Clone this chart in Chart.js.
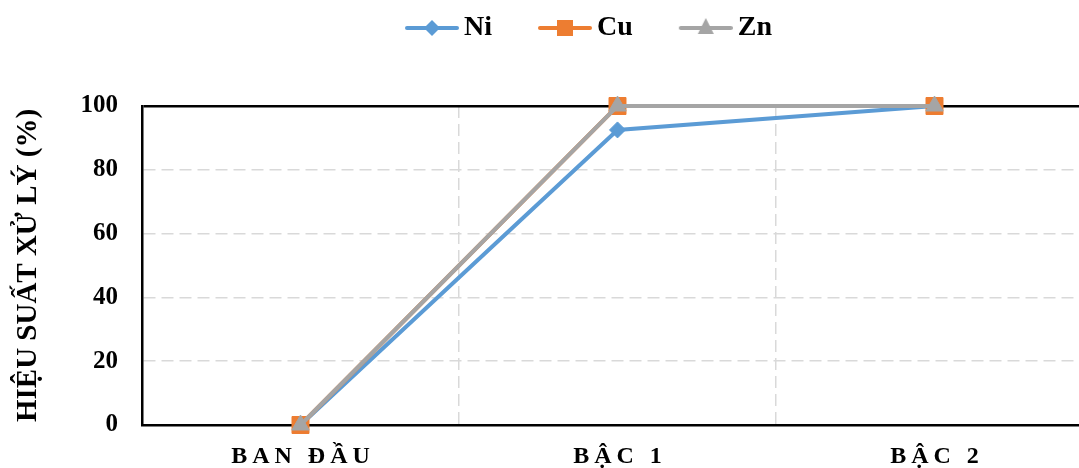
<!DOCTYPE html>
<html>
<head>
<meta charset="utf-8">
<script src="https://cdn.jsdelivr.net/npm/chart.js@4.4.0/dist/chart.umd.min.js"></script>
<style>
  html, body { margin: 0; padding: 0; background: #fff; overflow: hidden; }
  #wrap { width: 1095px; height: 468px; }
</style>
</head>
<body>
<div id="wrap"><canvas id="myChart" width="1095" height="468"></canvas></div>
<script>
// datos del grafico
var categories = ['BAN ĐẦU', 'BẬC 1', 'BẬC 2'];
var niValues = [0, 92.5, 100];
var cuValues = [0, 100, 100];
var znValues = [0, 100, 100];
var yTicks = [0, 20, 40, 60, 80, 100];

var FONT = "'Liberation Serif', 'Times New Roman', serif";

// icono de leyenda: linea + marcador
function legendIcon(color, shape) {
    var c = document.createElement('canvas');
    c.width = 95; c.height = 30;
    var g = c.getContext('2d');
    g.strokeStyle = color;
    g.fillStyle = color;
    g.lineWidth = 4;
    g.lineCap = 'round';
    g.beginPath(); g.moveTo(43, 15); g.lineTo(93, 15); g.stroke();
    var cx = 68, cy = 15;
    g.beginPath();
    if (shape == 'diamond') {
        g.moveTo(cx, cy - 8); g.lineTo(cx + 8, cy); g.lineTo(cx, cy + 8); g.lineTo(cx - 8, cy);
    } else if (shape == 'square') {
        g.rect(cx - 8, cy - 8, 16, 16);
    } else {
        g.moveTo(cx, cy - 10); g.lineTo(cx + 8, cy + 6); g.lineTo(cx - 8, cy + 6);
    }
    g.closePath();
    g.fill();
    return c;
}

var icons = [
    legendIcon('#5B9BD5', 'diamond'),
    legendIcon('#ED7D31', 'square'),
    legendIcon('#A5A5A5', 'triangle')
];

// espacio entre leyenda y area del grafico
var legendSpace = {
    id: 'legendSpace',
    beforeInit: function (chart) {
        var fit = chart.legend.fit;
        chart.legend.fit = function () {
            fit.call(this);
            this.height = 106;
        };
    }
};

var tickVal = function (c) { return c.tick ? c.tick.value : null; };

var ctx = document.getElementById('myChart');
var myChart = new Chart(ctx, {
    type: 'line',
    data: {
        labels: categories,
        datasets: [{
            label: 'Ni',
            data: niValues,
            borderColor: '#5B9BD5',
            backgroundColor: '#5B9BD5',
            borderWidth: 4,
            pointStyle: 'rectRot',
            pointRadius: 8,
            pointBorderWidth: 1,
            order: 3,
            clip: false
        }, {
            label: 'Cu',
            data: cuValues,
            borderColor: '#ED7D31',
            backgroundColor: '#ED7D31',
            borderWidth: 4,
            pointStyle: 'rect',
            pointRadius: 12,
            pointBorderWidth: 1,
            order: 2,
            clip: false
        }, {
            label: 'Zn',
            data: znValues,
            borderColor: '#A5A5A5',
            backgroundColor: '#A5A5A5',
            borderWidth: 4,
            pointStyle: 'triangle',
            pointRadius: 10,
            pointBorderWidth: 1,
            order: 1,
            clip: false
        }]
    },
    options: {
        responsive: false,
        animation: false,
        devicePixelRatio: 1,
        layout: { autoPadding: false, padding: { left: 52, right: 2, top: 0, bottom: 0 } },
        plugins: {
            tooltip: { enabled: false },
            legend: {
                position: 'top',
                labels: {
                    usePointStyle: true,
                    pointStyleWidth: 77,
                    padding: 14,
                    color: '#000',
                    font: { family: FONT, size: 28, weight: 'bold' },
                    sort: function (a, b) { return a.datasetIndex - b.datasetIndex; },
                    generateLabels: function (chart) {
                        var items = Chart.defaults.plugins.legend.labels.generateLabels(chart);
                        items.forEach(function (it) { it.pointStyle = icons[it.datasetIndex]; });
                        return items;
                    }
                }
            }
        },
        scales: {
            x: {
                offset: true,
                grid: {
                    offset: true,
                    drawTicks: false,
                    lineWidth: 1.5,
                    color: function (c) { return c.index === 0 ? 'rgba(0,0,0,0)' : '#d9d9d9'; }
                },
                border: { color: '#000', width: 2.5, dash: [12, 6] },
                ticks: {
                    color: '#000',
                    padding: 17,
                    font: { family: FONT, size: 24, weight: 'bold' }
                },
                afterFit: function (s) {
                    s.height = 43;
                    // etiquetas espaciadas como en el original
                    if (!s._spaced) {
                        s._spaced = true;
                        var dl = s.drawLabels;
                        s.drawLabels = function (area) {
                            this.ctx.save();
                            this.ctx.letterSpacing = '5px';
                            this.ctx.translate(2.5, 0);
                            dl.call(this, area);
                            this.ctx.restore();
                        };
                    }
                }
            },
            y: {
                min: 0,
                max: 100,
                afterBuildTicks: function (s) {
                    s.ticks = yTicks.map(function (v) { return { value: v }; });
                },
                grid: {
                    drawTicks: false,
                    lineWidth: function (c) { return tickVal(c) === 100 ? 2.5 : 1.5; },
                    color: function (c) {
                        var v = tickVal(c);
                        if (v === 100) return '#000';
                        if (v === 0) return 'rgba(0,0,0,0)';
                        return '#d9d9d9';
                    }
                },
                border: {
                    color: '#000',
                    width: 2.5,
                    dash: function (c) { return tickVal(c) === 100 || tickVal(c) === null ? [] : [12, 6]; }
                },
                ticks: {
                    color: '#000',
                    padding: 24,
                    font: { family: FONT, size: 25, weight: 'bold' }
                },
                title: {
                    display: true,
                    text: 'HIỆU SUẤT XỬ LÝ (%)',
                    color: '#000',
                    font: { family: FONT, size: 29, weight: 'bold' },
                    padding: { top: -41, bottom: 0 }
                },
                afterFit: function (s) { s.width = 90; }
            }
        }
    },
    plugins: [legendSpace]
});
</script>
</body>
</html>
